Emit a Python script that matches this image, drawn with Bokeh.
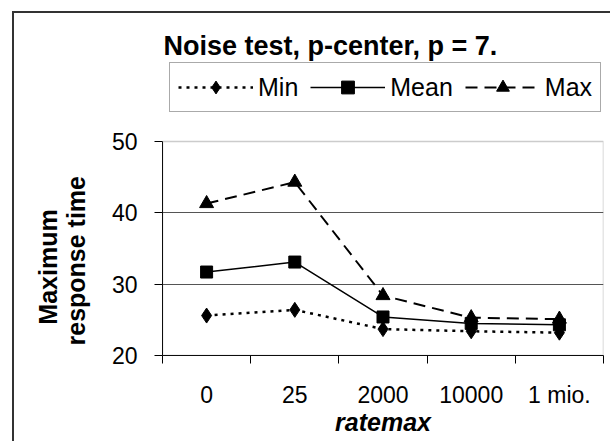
from bokeh.plotting import figure
from bokeh.models import FixedTicker, Legend, LegendItem, Title, Label, BoxAnnotation
from bokeh.embed import file_html
from bokeh.resources import INLINE

categories = ["0", "25", "2000", "10000", "1 mio."]
min_vals = [25.6, 26.4, 23.7, 23.4, 23.2]
mean_vals = [31.7, 33.1, 25.4, 24.5, 24.3]
max_vals = [41.3, 44.3, 28.4, 25.3, 25.1]
y_ticks = [20, 30, 40, 50]
grid_ticks = [30, 40]

FONT = "Liberation Sans"
n = len(categories)
xs = list(range(1, n + 1))

OX, OY = 14, 13                       # page offset of the canvas (outer border just outside)
W, H = 612 - OX, 443 - OY
PL, PR, PT, PB = 163, 603, 141, 355   # plot-area box (20..50) in page pixels
X0, X1 = 0.5, n + 0.5
Y0, Y1 = y_ticks[0], y_ticks[-1]
# frame reaches the canvas top so that title and legend can live inside it
Y_TOP = Y0 + (PB - OY) * (Y1 - Y0) / (PB - PT)


def xd(px):
    return X0 + (px - PL) * (X1 - X0) / (PR - PL)


def yd(py):
    return Y0 + (PB - py) * (Y1 - Y0) / (PB - PT)


p = figure(width=W, height=H, x_range=(X0, X1), y_range=(Y0, Y_TOP),
           output_backend="svg", toolbar_location=None, title=None,
           min_border_left=0, min_border_right=612 - PR, min_border_top=0,
           min_border_bottom=443 - PB)
p.styles = {"position": "relative", "left": f"{OX}px", "top": f"{OY}px",
            "box-shadow": "-2px -2px 0 0 #333333"}
p.background_fill_color = "white"
p.border_fill_color = "white"
p.outline_line_color = None

# x axis: labels at category centres, ticks at category boundaries
p.xaxis.ticker = FixedTicker(ticks=xs, minor_ticks=[x - 0.5 for x in xs] + [n + 0.5])
p.xaxis.major_label_overrides = {x: c for x, c in zip(xs, categories)}
p.xaxis.major_tick_line_color = None
p.xaxis.major_tick_out = 0
p.xaxis.major_tick_in = 0
p.xaxis.minor_tick_line_color = "black"
p.xaxis.minor_tick_out = 8
p.xaxis.minor_tick_in = 0
p.xaxis.major_label_standoff = 18
p.xaxis.major_label_text_font = FONT
p.xaxis.major_label_text_font_size = "23px"
p.xaxis.major_label_text_color = "black"
p.xaxis.axis_line_color = "black"
p.xaxis.axis_label = "ratemax"
p.xaxis.axis_label_text_font = FONT
p.xaxis.axis_label_text_font_size = "25px"
p.xaxis.axis_label_text_font_style = "bold italic"
p.xaxis.axis_label_text_color = "black"
p.xaxis.axis_label_standoff = -3

p.yaxis.ticker = FixedTicker(ticks=y_ticks)
p.yaxis.bounds = (Y0, Y1)
p.yaxis.minor_tick_line_color = None
p.yaxis.major_tick_out = 8
p.yaxis.major_tick_in = 0
p.yaxis.major_tick_line_color = "black"
p.yaxis.major_label_standoff = 17
p.yaxis.major_label_text_font = FONT
p.yaxis.major_label_text_font_size = "23px"
p.yaxis.major_label_text_color = "black"
p.yaxis.axis_line_color = "black"

p.xgrid.visible = False
p.ygrid.ticker = FixedTicker(ticks=grid_ticks)
p.ygrid.grid_line_color = "#555555"
p.ygrid.grid_line_width = 1

# plot-area border (top and right edges)
p.add_layout(BoxAnnotation(left=X0, right=X1, bottom=Y0, top=Y1,
                           fill_color=None, fill_alpha=0,
                           line_color="#555555", line_width=1.5))

r_min_l = p.line(xs, min_vals, line_color="black", line_width=2.5, line_dash="3 5")
r_min_m = p.scatter(xs, min_vals, marker="diamond", size=15, color="black")
r_mean_l = p.line(xs, mean_vals, line_color="black", line_width=1.5)
r_mean_m = p.scatter(xs, mean_vals, marker="square", size=12, color="black")
r_max_l = p.line(xs, max_vals, line_color="black", line_width=2, line_dash="12 7")
r_max_m = p.scatter(xs, max_vals, marker="triangle", size=14, color="black")

legend = Legend(items=[LegendItem(label="Min", renderers=[r_min_l, r_min_m]),
                       LegendItem(label="Mean", renderers=[r_mean_l, r_mean_m]),
                       LegendItem(label="Max", renderers=[r_max_l, r_max_m])],
                orientation="horizontal", location=(170 - PL, PB - 112),
                glyph_width=75, glyph_height=32, label_standoff=5, spacing=12,
                padding=8, margin=0,
                label_text_font=FONT, label_text_font_size="25px",
                label_text_color="black",
                border_line_color="#555555", border_line_width=1,
                background_fill_color="white", background_fill_alpha=1)
p.add_layout(legend)

p.add_layout(Label(x=xd(164), y=yd(45), text="Noise test, p-center, p = 7.",
                   text_align="left", text_baseline="alphabetic", text_font=FONT,
                   text_font_style="bold", text_font_size="27px", text_color="black"))

NB = "\u00a0"
p.add_layout(Title(text=NB * 3 + "Maximum\nresponse time", align="left",
                   offset=PB - 345, vertical_align="middle", standoff=36,
                   text_font=FONT, text_font_style="bold", text_font_size="25px",
                   text_color="black"), "left")

open("out.html", "w").write(file_html(p, INLINE))
